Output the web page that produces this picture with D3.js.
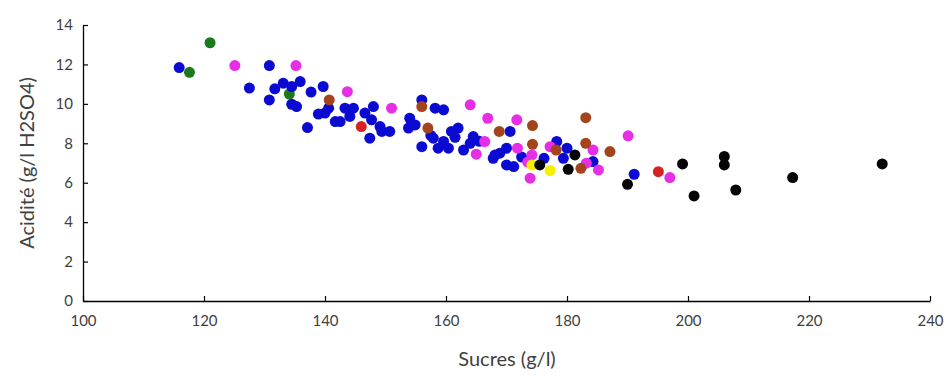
<!DOCTYPE html>
<html><head><meta charset="utf-8">
<script src="https://cdn.jsdelivr.net/npm/d3@7"></script>
<style>
body{margin:0;background:#fff;}
text{font-family:Lato,"Open Sans",sans-serif;}
</style>
</head><body>
<svg id="chart" width="949" height="379"></svg>
<script>
const xTicks = [100,120,140,160,180,200,220,240];
const yTicks = [0,2,4,6,8,10,12,14];
const xTitle = "Sucres (g/l)";
const yTitle = "Acidité (g/l H2SO4)";

const green = [[121,13.1],[117.6,11.6],[134.1,10.5]];
const blue = [[115.9,11.84],[130.8,11.94],[127.5,10.8],[131.7,10.76],[133.1,11.05],[134.5,10.88],[135.9,11.13],
[130.8,10.2],[134.5,9.98],[135.3,9.86],[137.7,10.6],[139.7,10.88],[138.9,9.48],[140,9.53],[140.6,9.78],[137.1,8.8],
[141.7,9.1],[142.5,9.1],[143.3,9.78],[144.7,9.78],[144.1,9.36],[146.6,9.53],[148,9.86],[147.7,9.19],[147.4,8.26],
[149.1,8.85],[150.7,8.6],[149.4,8.6],[154,9.27],[153.8,8.77],[154.9,8.93],[156,10.2],[158.2,9.78],[159.6,9.7],
[156,7.83],[157.9,8.26],[158.7,7.75],[159.6,8.09],[160.9,8.6],[162,8.77],[160.4,7.75],[162.9,7.66],[164,8.0],
[164.5,8.34],[170.6,8.6],[167.8,7.24],[168.9,7.5],[170,7.75],[170,6.9],[171.2,6.82],[168.1,7.41],[176.2,7.24],
[178.3,8.09],[179.4,7.24],[180,7.75],[184.3,7.07],[191.1,6.43],[157.5,8.4],[161.5,8.3],[165.5,8.1],[172.5,7.3]];
const magenta = [[125.1,11.94],[135.2,11.94],[143.7,10.62],[151,9.78],[164,9.95],[166.9,9.27],[171.7,9.19],
[166.4,8.09],[165,7.45],[171.8,7.75],[174.2,7.41],[173.9,6.23],[177.2,7.83],[183.2,6.99],[184.3,7.66],[185.2,6.65],
[190.1,8.38],[197,6.26],[173.5,7.05]];
const brown = [[140.7,10.2],[156,9.86],[157,8.77],[168.8,8.6],[174.3,8.9],[174.3,7.95],[178.2,7.66],[183.1,9.3],
[183.1,8.0],[182.3,6.73],[187.1,7.58]];
const red = [[146,8.85],[195.1,6.56]];
const yellow = [[174.2,6.9],[177.2,6.62]];
const black = [[175.5,6.9],[181.3,7.41],[180.2,6.68],[190,5.92],[199.1,6.95],[201,5.33],[206,7.33],[206,6.9],
[207.9,5.63],[217.3,6.26],[232.1,6.95]];

const series = [
  {data: green, color: "#1c7a1c"},
  {data: blue, color: "#0a0ad2"},
  {data: magenta, color: "#e52ee5"},
  {data: brown, color: "#a3441c"},
  {data: red, color: "#d52222"},
  {data: yellow, color: "#f5f000"},
  {data: black, color: "#050505"}
];

const svg = d3.select("#chart");
const x = d3.scaleLinear().domain([100,240]).range([83,930]);
const y = d3.scaleLinear().domain([0,14]).range([301,25]);

const xAxis = svg.append("g").attr("transform","translate(0,301)")
  .call(d3.axisBottom(x).tickValues(xTicks).tickSizeInner(-5).tickSizeOuter(0).tickPadding(14).tickFormat(d3.format("d")));
const yAxis = svg.append("g").attr("transform","translate(83,0)")
  .call(d3.axisLeft(y).tickValues(yTicks).tickSizeInner(-5).tickSizeOuter(0).tickPadding(10).tickFormat(d3.format("d")));
[xAxis,yAxis].forEach(g=>{
  g.selectAll("path").attr("stroke","#000").attr("stroke-width",1.3);
  g.selectAll("line").attr("stroke","#000").attr("stroke-width",1.2);
  g.selectAll("text").attr("fill","#404040").style("font-size","15px").style("font-family","Lato, sans-serif");
});

series.forEach(s=>{
  svg.append("g").selectAll("circle").data(s.data).join("circle")
    .attr("cx",d=>x(d[0])).attr("cy",d=>y(d[1])).attr("r",5.5).attr("fill",s.color);
});

svg.append("text").attr("x",507).attr("y",366).attr("text-anchor","middle")
  .attr("fill","#404040").style("font-size","20px").text(xTitle);
svg.append("text").attr("transform","translate(34,163) rotate(-90)").attr("text-anchor","middle")
  .attr("fill","#404040").style("font-size","20px").text(yTitle);
</script>
</body></html>
